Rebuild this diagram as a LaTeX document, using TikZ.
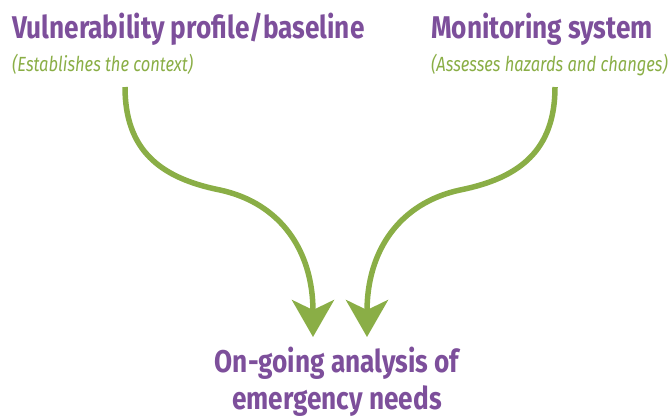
\documentclass[tikz,border=0pt]{standalone}
\usepackage{fontspec}
\usetikzlibrary{arrows.meta}
\newfontfamily\headfont[FakeStretch=0.835]{Fira Sans}
\newfontfamily\notefont[FakeStretch=0.805]{Fira Sans}
\definecolor{headpurple}{RGB}{125,79,155}
\definecolor{leafgreen}{RGB}{138,174,70}
\begin{document}
\begin{tikzpicture}[x=1pt,y=-1pt,
  title/.style={inner sep=0pt,anchor=base west,text=headpurple,
    font=\headfont\bfseries\fontsize{31.4}{37}\selectfont},
  note/.style={inner sep=0pt,anchor=base west,text=leafgreen,
    font=\notefont\itshape\fontsize{20.5}{24}\selectfont},
  flow/.style={draw=leafgreen,line width=5.5pt,
    -{Stealth[length=37pt,width=42pt,inset=10pt,fill=leafgreen]}}]
\useasboundingbox (0,0) rectangle (669,416);

% sources
\node[title] (vuln) at (12,38) {Vulnerability profile/baseline};
\node[note] (vulnnote) at (12,71) {(Establishes the context)};
\node[title] (mon) at (431,38) {Monitoring system};
\node[note] (monnote) at (431,71) {(Assesses hazards and changes)};

% target (base anchor sits on the last line)
\node[inner sep=0pt,anchor=base,align=center,text=headpurple,
  font=\headfont\bfseries\fontsize{31.4}{37}\selectfont]
  (needs) at (337,409) {On-going analysis of\\emergency needs};

% arrow end points
\coordinate (vstart) at (125,87);
\coordinate (vend) at (313,337);
\coordinate (mstart) at (555,87);
\coordinate (mend) at (367,337);

\draw[flow] (vstart) .. controls (125,150) and (160,178) .. (220,190)
  .. controls (280,203) and (313,250) .. (vend);
\draw[flow] (mstart) .. controls (555,150) and (520,178) .. (460,190)
  .. controls (400,203) and (367,250) .. (mend);
\end{tikzpicture}
\end{document}
